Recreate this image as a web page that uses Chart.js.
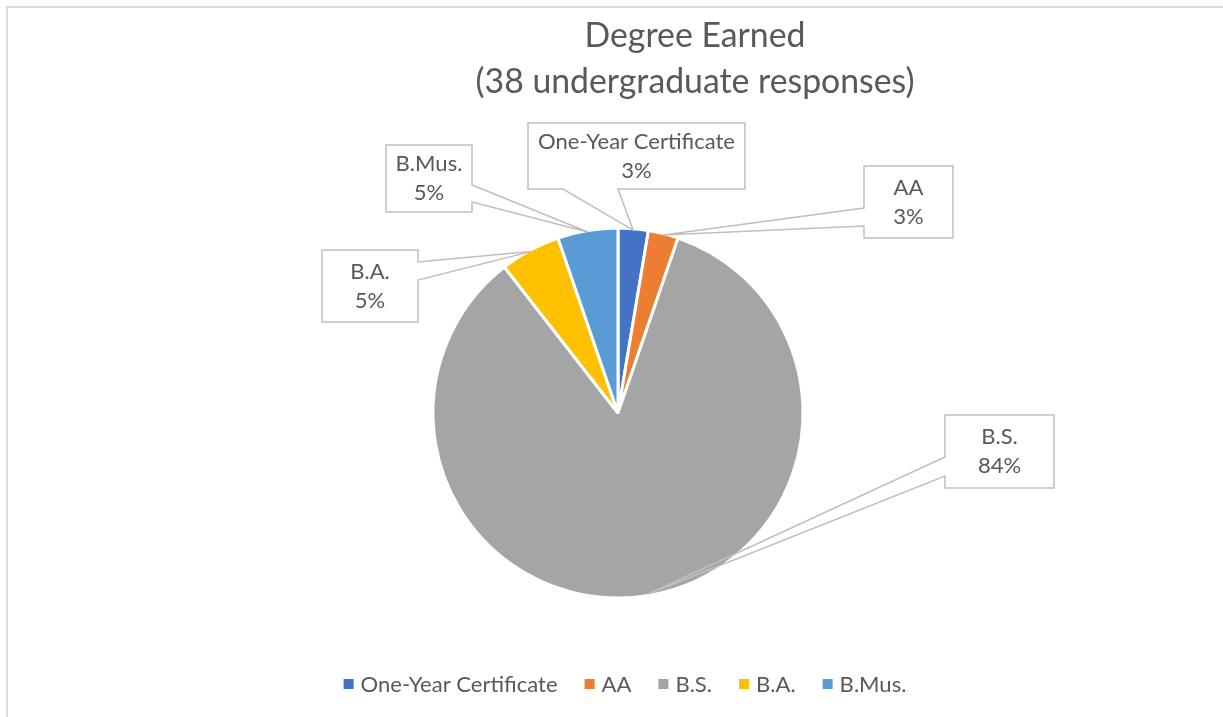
<!DOCTYPE html>
<html>
<head>
<meta charset="utf-8">
<script src="https://cdn.jsdelivr.net/npm/chart.js@4.4.0/dist/chart.umd.min.js"></script>
<style>
html,body{margin:0;padding:0;background:#fff;}
#wrap{position:relative;width:1223px;height:717px;}
</style>
</head>
<body>
<div id="wrap"><canvas id="c" width="1223" height="717"></canvas></div>
<script>
// ---- data ----
const titleLines = ["Degree Earned", "(38 undergraduate responses)"];
const categories = ["One-Year Certificate", "AA", "B.S.", "B.A.", "B.Mus."];
const responseCounts = [1, 1, 32, 2, 2];
const percentLabels = ["3%", "3%", "84%", "5%", "5%"];
const sliceColors = ["#4472C4", "#ED7D31", "#A5A5A5", "#FFC000", "#5B9BD5"];

// ---- font sizing: match Calibri widths using Lato ----
const FAMILY = "Lato, 'Open Sans', sans-serif";
const mctx = document.createElement('canvas').getContext('2d');
function fitSize(text, baseSize, targetWidth) {
  mctx.font = baseSize + "px " + FAMILY;
  const w = mctx.measureText(text).width;
  return baseSize * targetWidth / w;
}
const titleSize = fitSize("Degree Earned", 36, 221);
const labelSize = fitSize("One-Year Certificate", 24, 197);

// callout layout (box rect + pointer base on one side)
const callouts = [
  {box:[528,123,745,189], side:'bottom', base:[563,618]},
  {box:[864,166,953,238], side:'left', base:[208,226]},
  {box:[945,415,1054,488], side:'left', base:[457,476]},
  {box:[322,250,418,322], side:'right', base:[262,280]},
  {box:[386,145,472,212], side:'right', base:[185,202]}
];

const decorPlugin = {
  id: 'decor',
  beforeDraw(chart) {
    const ctx = chart.ctx;
    ctx.save();
    ctx.fillStyle = '#fff';
    ctx.fillRect(0, 0, chart.width, chart.height);
    // frame
    ctx.strokeStyle = '#d9d9d9';
    ctx.lineWidth = 2;
    ctx.beginPath();
    ctx.moveTo(7, chart.height);
    ctx.lineTo(7, 7);
    ctx.lineTo(chart.width, 7);
    ctx.stroke();
    // title
    ctx.fillStyle = '#595959';
    ctx.font = titleSize + "px " + FAMILY;
    ctx.textAlign = 'center';
    ctx.textBaseline = 'middle';
    ctx.fillText(titleLines[0], 695, 36);
    ctx.fillText(titleLines[1], 695, 82);
    // legend
    ctx.font = labelSize + "px " + FAMILY;
    ctx.textAlign = 'left';
    const sq = 10, gap1 = 7, gap2 = 27;
    let total = 0;
    categories.forEach((c, i) => {
      total += sq + gap1 + ctx.measureText(c).width + (i < categories.length - 1 ? gap2 : 0);
    });
    let x = 625 - total / 2;
    const ly = 684;
    categories.forEach((c, i) => {
      ctx.fillStyle = sliceColors[i];
      ctx.fillRect(x, ly - sq / 2, sq, sq);
      x += sq + gap1;
      ctx.fillStyle = '#595959';
      ctx.fillText(c, x, ly + 1);
      x += ctx.measureText(c).width + gap2;
    });
    ctx.restore();
  },
  afterDatasetsDraw(chart) {
    const ctx = chart.ctx;
    const meta = chart.getDatasetMeta(0);
    ctx.save();
    meta.data.forEach((arc, i) => {
      const p = arc.getProps(['x', 'y', 'startAngle', 'endAngle', 'outerRadius'], true);
      const mid = (p.startAngle + p.endAngle) / 2;
      const r = p.outerRadius - 1.5;
      const tx = p.x + Math.cos(mid) * r;
      const ty = p.y + Math.sin(mid) * r;
      const co = callouts[i];
      const [x1, y1, x2, y2] = co.box;
      ctx.fillStyle = '#fff';
      ctx.fillRect(x1, y1, x2 - x1, y2 - y1);
      ctx.beginPath();
      if (co.side === 'bottom') {
        ctx.moveTo(x1, y1); ctx.lineTo(x2, y1); ctx.lineTo(x2, y2);
        ctx.lineTo(co.base[1], y2); ctx.lineTo(tx, ty); ctx.lineTo(co.base[0], y2);
        ctx.lineTo(x1, y2); ctx.closePath();
      } else if (co.side === 'left') {
        ctx.moveTo(x1, y1); ctx.lineTo(x2, y1); ctx.lineTo(x2, y2); ctx.lineTo(x1, y2);
        ctx.lineTo(x1, co.base[1]); ctx.lineTo(tx, ty); ctx.lineTo(x1, co.base[0]);
        ctx.closePath();
      } else {
        ctx.moveTo(x1, y1); ctx.lineTo(x2, y1);
        ctx.lineTo(x2, co.base[0]); ctx.lineTo(tx, ty); ctx.lineTo(x2, co.base[1]);
        ctx.lineTo(x2, y2); ctx.lineTo(x1, y2); ctx.closePath();
      }
      ctx.strokeStyle = '#bfbfbf';
      ctx.lineWidth = 1.5;
      ctx.lineJoin = 'miter';
      ctx.stroke();
      ctx.fillStyle = '#595959';
      ctx.font = labelSize + "px " + FAMILY;
      ctx.textAlign = 'center';
      ctx.textBaseline = 'middle';
      const cx = (x1 + x2) / 2, cy = (y1 + y2) / 2;
      ctx.fillText(categories[i], cx, cy - 14.5);
      ctx.fillText(percentLabels[i], cx, cy + 14.5);
    });
    ctx.restore();
  }
};

new Chart(document.getElementById('c'), {
  type: 'pie',
  data: {
    labels: categories,
    datasets: [{
      data: responseCounts,
      backgroundColor: sliceColors,
      borderColor: '#ffffff',
      borderWidth: 3,
      hoverOffset: 0,
      offset: 0
    }]
  },
  options: {
    responsive: false,
    animation: false,
    events: [],
    layout: { padding: { left: 431.5, right: 418.5, top: 226.5, bottom: 117.5 } },
    plugins: {
      legend: { display: false },
      title: { display: false },
      tooltip: { enabled: false }
    }
  },
  plugins: [decorPlugin]
});
</script>
</body>
</html>
